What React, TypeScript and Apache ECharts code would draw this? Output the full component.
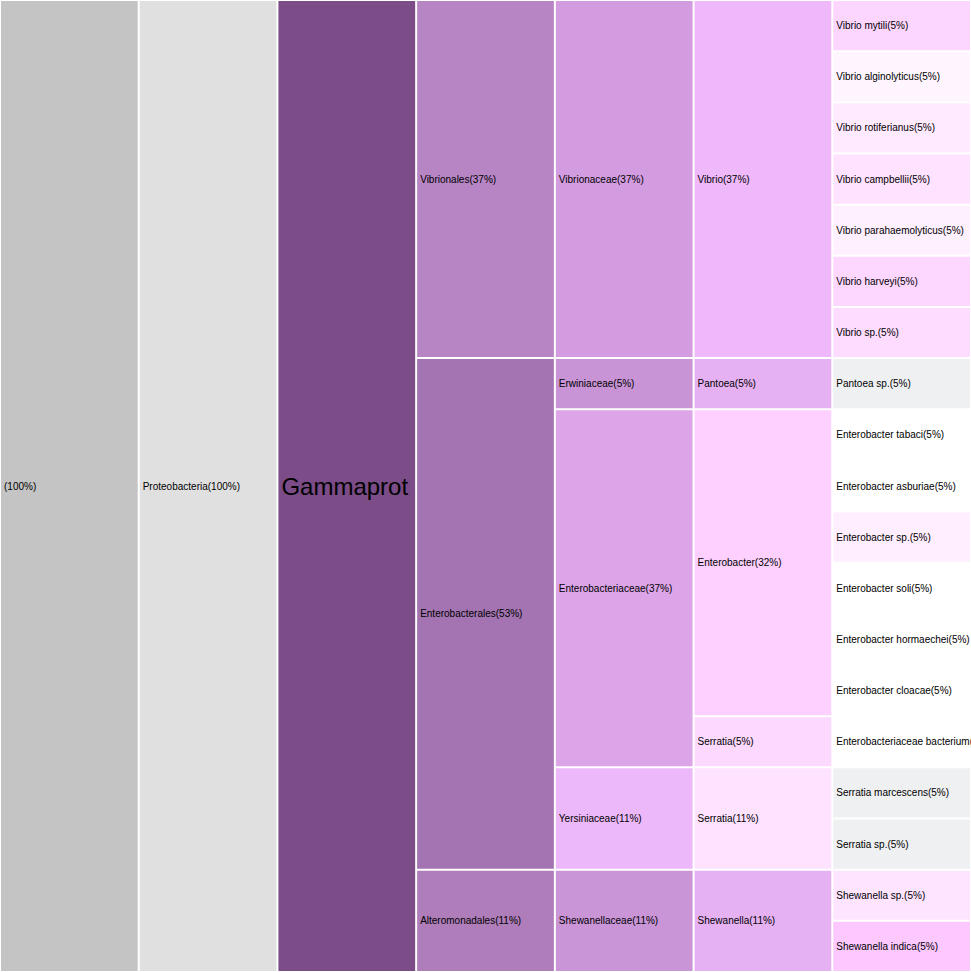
import React, { useEffect, useRef } from "react";
import * as echarts from "echarts";

// ---- data (leaf counts per node, level by level) ----
const rootNames = [""];
const rootSpans = [19];
const phylumNames = ["Proteobacteria"];
const phylumSpans = [19];
const classNames = ["Gammaproteobacteria"];
const classSpans = [19];
const orderNames = ["Vibrionales", "Enterobacterales", "Alteromonadales"];
const orderSpans = [7, 10, 2];
const familyNames = ["Vibrionaceae", "Erwiniaceae", "Enterobacteriaceae", "Yersiniaceae", "Shewanellaceae"];
const familySpans = [7, 1, 7, 2, 2];
const genusNames = ["Vibrio", "Pantoea", "Enterobacter", "Serratia", "Serratia", "Shewanella"];
const genusSpans = [7, 1, 6, 1, 2, 2];
const speciesNames = [
  "Vibrio mytili",
  "Vibrio alginolyticus",
  "Vibrio rotiferianus",
  "Vibrio campbellii",
  "Vibrio parahaemolyticus",
  "Vibrio harveyi",
  "Vibrio sp.",
  "Pantoea sp.",
  "Enterobacter tabaci",
  "Enterobacter asburiae",
  "Enterobacter sp.",
  "Enterobacter soli",
  "Enterobacter hormaechei",
  "Enterobacter cloacae",
  "Enterobacteriaceae bacterium",
  "Serratia marcescens",
  "Serratia sp.",
  "Shewanella sp.",
  "Shewanella indica",
];
const speciesSpans = [1, 1, 1, 1, 1, 1, 1, 1, 1, 1, 1, 1, 1, 1, 1, 1, 1, 1, 1];

// ---- colours per level ----
const rootColors = ["#c4c4c4"];
const phylumColors = ["#e0e0e0"];
const classColors = ["#7b4c87"];
const orderColors = ["#b784c4", "#a374b1", "#ae7dba"];
const familyColors = ["#d49ce0", "#c994d6", "#dca5e8", "#ecb8f9", "#c995d7"];
const genusColors = ["#eeb8fb", "#e6b1f3", "#fdd0ff", "#fdd9ff", "#fee2ff", "#e6b1f3"];
const speciesColors = [
  "#fdd6ff", "#fff5ff", "#ffeaff", "#ffe2ff", "#fff0ff", "#fdd7ff", "#fddcff",
  "#eff0f2",
  "#ffffff", "#ffffff", "#ffeeff", "#ffffff", "#ffffff", "#ffffff", "#ffffff",
  "#eff0f2", "#eff0f2",
  "#ffe4ff", "#fdc8ff",
];

const levelNames = [rootNames, phylumNames, classNames, orderNames, familyNames, genusNames, speciesNames];
const levelSpans = [rootSpans, phylumSpans, classSpans, orderSpans, familySpans, genusSpans, speciesSpans];
const levelColors = [rootColors, phylumColors, classColors, orderColors, familyColors, genusColors, speciesColors];
const TOTAL = 19;

type Node = { depth: number; start: number; end: number; label: string; color: string };

function buildNodes(): Node[] {
  const nodes: Node[] = [];
  levelNames.forEach((names, depth) => {
    let acc = 0;
    names.forEach((name, i) => {
      const span = levelSpans[depth][i];
      const pct = Math.round((span / TOTAL) * 100);
      nodes.push({
        depth,
        start: acc,
        end: acc + span,
        label: `${name}(${pct}%)`,
        color: levelColors[depth][i],
      });
      acc += span;
    });
  });
  return nodes;
}

export default function App() {
  const ref = useRef<HTMLDivElement>(null);
  useEffect(() => {
    if (!ref.current) return;
    const chart = echarts.init(ref.current, undefined, { renderer: "svg" });
    const nodes = buildNodes();
    chart.setOption({
      animation: false,
      backgroundColor: "#ffffff",
      grid: { left: 0, right: 0, top: 0, bottom: 0 },
      xAxis: { type: "value", min: 0, max: 7, show: false },
      yAxis: { type: "value", min: 0, max: TOTAL, inverse: true, show: false },
      series: [
        {
          type: "custom",
          coordinateSystem: "cartesian2d",
          data: nodes.map((n) => [n.depth, n.start, n.end]),
          encode: { x: 0, y: [1, 2] },
          renderItem: (params: any, api: any) => {
            const n = nodes[params.dataIndex];
            const p0 = api.coord([n.depth, n.start]);
            const p1 = api.coord([n.depth + 1, n.end]);
            const x = p0[0] + 1;
            const y = p0[1] + 1;
            const w = p1[0] - p0[0] - 2;
            const h = p1[1] - p0[1] - 2;
            const big = n.depth === 2;
            const textStyle: any = {
              text: n.label,
              x: x + 3,
              y: y + h / 2,
              verticalAlign: "middle",
              align: "left",
              fill: "#000000",
              fontSize: big ? 24 : 10,
              fontFamily: "'Liberation Sans', Arial, Helvetica, sans-serif",
            };
            if (big) {
              textStyle.width = w - 1;
              textStyle.overflow = "truncate";
              textStyle.ellipsis = "";
            }
            return {
              type: "group",
              children: [
                {
                  type: "rect",
                  shape: { x, y, width: w, height: h },
                  style: { fill: n.color },
                },
                { type: "text", style: textStyle },
              ],
            };
          },
        },
      ],
    });
    return () => chart.dispose();
  }, []);
  return (
    <div
      ref={ref}
      style={{ position: "fixed", left: 0, top: 0, width: 971, height: 972 }}
    />
  );
}
